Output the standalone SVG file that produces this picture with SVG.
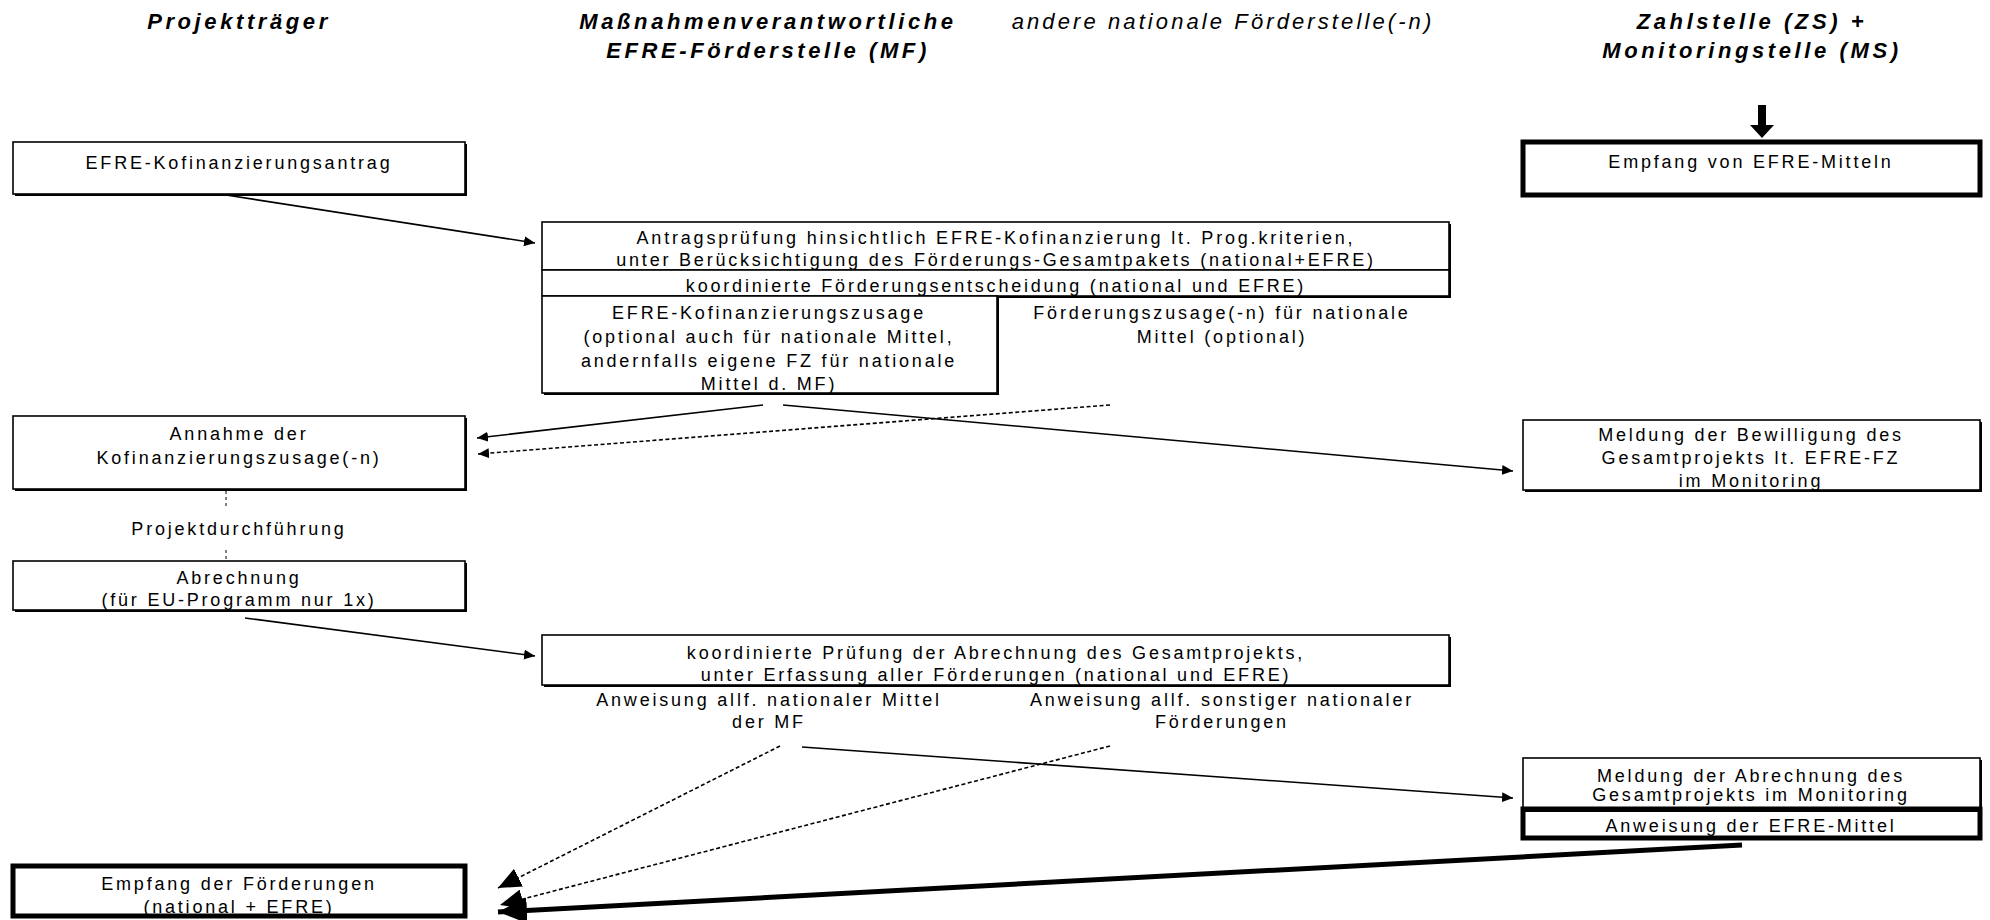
<svg xmlns="http://www.w3.org/2000/svg" width="1990" height="920" viewBox="0 0 1990 920">
<defs>
<style>
text{font-family:"Liberation Sans",Arial,sans-serif;fill:#000;text-anchor:middle}
.h{font-size:22px;font-weight:bold;font-style:italic;letter-spacing:3.6px}
.hi{font-size:22px;font-style:italic;letter-spacing:3.1px}
.t{font-size:18px;letter-spacing:2.8px}
.b{fill:#fff;stroke:#000;stroke-width:1.6}
.s{fill:#000;stroke:none}
.bt{fill:#fff;stroke:#000;stroke-width:5}
.ln{fill:none;stroke:#000;stroke-width:1.6}
.dl{fill:none;stroke:#000;stroke-width:1.6;stroke-dasharray:4 2.5}
.vd{fill:none;stroke:#000;stroke-width:1;stroke-dasharray:3 3}
.tk{fill:none;stroke:#000;stroke-width:5}
</style>
<marker id="a" markerUnits="userSpaceOnUse" markerWidth="12" markerHeight="10" refX="11" refY="5" orient="auto"><path d="M0,0 L11,5 L0,10 z" fill="#000"/></marker>
<marker id="ab" markerUnits="userSpaceOnUse" markerWidth="24" markerHeight="20" refX="23" refY="10" orient="auto"><path d="M0,0 L23,10 L0,20 z" fill="#000"/></marker>
<marker id="at" markerUnits="userSpaceOnUse" markerWidth="30" markerHeight="26" refX="29" refY="13" orient="auto"><path d="M0,0 L29,13 L0,26 z" fill="#000"/></marker>
</defs>
<rect width="1990" height="920" fill="#fff"/>
<g id="headers">
<text class="h" x="239" y="29">Projektträger</text>
<text class="h" x="768" y="29">Maßnahmenverantwortliche</text>
<text class="h" x="768" y="58">EFRE-Förderstelle (MF)</text>
<text class="hi" x="1223" y="29">andere nationale Förderstelle(-n)</text>
<text class="h" x="1752" y="29">Zahlstelle (ZS) +</text>
<text class="h" x="1752" y="58">Monitoringstelle (MS)</text>
</g>
<g id="connectors">
<path d="M1758,105 h8 v20 h8 l-12,13 l-12,-13 h8 z" fill="#000"/>
<line class="ln" x1="226" y1="195" x2="535" y2="243" marker-end="url(#a)"/>
<line class="ln" x1="763" y1="405" x2="477" y2="438" marker-end="url(#a)"/>
<line class="dl" x1="1110" y1="405" x2="478" y2="454" marker-end="url(#a)"/>
<line class="ln" x1="783" y1="405" x2="1513" y2="471" marker-end="url(#a)"/>
<line class="vd" x1="226" y1="491" x2="226" y2="506"/>
<line class="vd" x1="226" y1="550" x2="226" y2="561"/>
<line class="ln" x1="245" y1="618" x2="535" y2="656" marker-end="url(#a)"/>
<line class="dl" x1="780" y1="746" x2="498" y2="888" marker-end="url(#ab)"/>
<line class="dl" x1="1110" y1="746" x2="500" y2="905" marker-end="url(#ab)"/>
<line class="ln" x1="802" y1="747" x2="1513" y2="798" marker-end="url(#a)"/>
<line class="tk" x1="1742" y1="845" x2="498" y2="912" marker-end="url(#at)"/>
</g>
<g id="n-antrag">
<rect class="s" x="15" y="144" width="452" height="52"/>
<rect class="b" x="13" y="142" width="452" height="52"/>
<text class="t" x="239" y="169">EFRE-Kofinanzierungsantrag</text>
</g>
<g id="n-empfang-efre">
<rect class="bt" x="1523" y="142" width="457" height="53"/>
<text class="t" x="1751" y="168">Empfang von EFRE-Mitteln</text>
</g>
<g id="n-pruefung">
<rect class="s" x="544" y="224" width="907" height="48"/>
<rect class="b" x="542" y="222" width="907" height="48"/>
<text class="t" x="996" y="244">Antragsprüfung hinsichtlich EFRE-Kofinanzierung lt. Prog.kriterien,</text>
<text class="t" x="996" y="266">unter Berücksichtigung des Förderungs-Gesamtpakets (national+EFRE)</text>
</g>
<g id="n-entscheidung">
<rect class="s" x="544" y="272" width="907" height="26"/>
<rect class="b" x="542" y="270" width="907" height="26"/>
<text class="t" x="996" y="292">koordinierte Förderungsentscheidung (national und EFRE)</text>
</g>
<g id="n-zusage">
<rect class="s" x="544" y="298" width="455" height="97"/>
<rect class="b" x="542" y="296" width="455" height="97"/>
<text class="t" x="769" y="319">EFRE-Kofinanzierungszusage</text>
<text class="t" x="769" y="343">(optional auch für nationale Mittel,</text>
<text class="t" x="769" y="367">andernfalls eigene FZ für nationale</text>
<text class="t" x="769" y="390">Mittel d. MF)</text>
</g>
<g id="n-zusage-national">
<text class="t" x="1222" y="319">Förderungszusage(-n) für nationale</text>
<text class="t" x="1222" y="343">Mittel (optional)</text>
</g>
<g id="n-annahme">
<rect class="s" x="15" y="418" width="452" height="73"/>
<rect class="b" x="13" y="416" width="452" height="73"/>
<text class="t" x="239" y="440">Annahme der</text>
<text class="t" x="239" y="464">Kofinanzierungszusage(-n)</text>
</g>
<g id="n-durchfuehrung">
<text class="t" x="239" y="535">Projektdurchführung</text>
</g>
<g id="n-abrechnung">
<rect class="s" x="15" y="563" width="452" height="49"/>
<rect class="b" x="13" y="561" width="452" height="49"/>
<text class="t" x="239" y="584">Abrechnung</text>
<text class="t" x="239" y="606">(für EU-Programm nur 1x)</text>
</g>
<g id="n-bewilligung">
<rect class="s" x="1525" y="422" width="457" height="70"/>
<rect class="b" x="1523" y="420" width="457" height="70"/>
<text class="t" x="1751" y="441">Meldung der Bewilligung des</text>
<text class="t" x="1751" y="464">Gesamtprojekts lt. EFRE-FZ</text>
<text class="t" x="1751" y="487">im Monitoring</text>
</g>
<g id="n-pruefung-abrechnung">
<rect class="s" x="544" y="637" width="907" height="50"/>
<rect class="b" x="542" y="635" width="907" height="50"/>
<text class="t" x="996" y="659">koordinierte Prüfung der Abrechnung des Gesamtprojekts,</text>
<text class="t" x="996" y="681">unter Erfassung aller Förderungen (national und EFRE)</text>
</g>
<g id="n-anweisung-mf">
<text class="t" x="769" y="706">Anweisung allf. nationaler Mittel</text>
<text class="t" x="769" y="728">der MF</text>
</g>
<g id="n-anweisung-sonst">
<text class="t" x="1222" y="706">Anweisung allf. sonstiger nationaler</text>
<text class="t" x="1222" y="728">Förderungen</text>
</g>
<g id="n-meldung-abrechnung">
<rect class="s" x="1525" y="760" width="457" height="52"/>
<rect class="b" x="1523" y="758" width="457" height="52"/>
<text class="t" x="1751" y="782">Meldung der Abrechnung des</text>
<text class="t" x="1751" y="801">Gesamtprojekts im Monitoring</text>
</g>
<g id="n-anweisung-efre">
<rect class="bt" x="1523" y="809" width="457" height="29" style="fill:none"/>
<text class="t" x="1751" y="832">Anweisung der EFRE-Mittel</text>
</g>
<g id="n-empfang-foerderungen">
<rect class="bt" x="13" y="866" width="452" height="50"/>
<text class="t" x="239" y="890">Empfang der Förderungen</text>
<text class="t" x="239" y="913">(national + EFRE)</text>
</g>
</svg>
